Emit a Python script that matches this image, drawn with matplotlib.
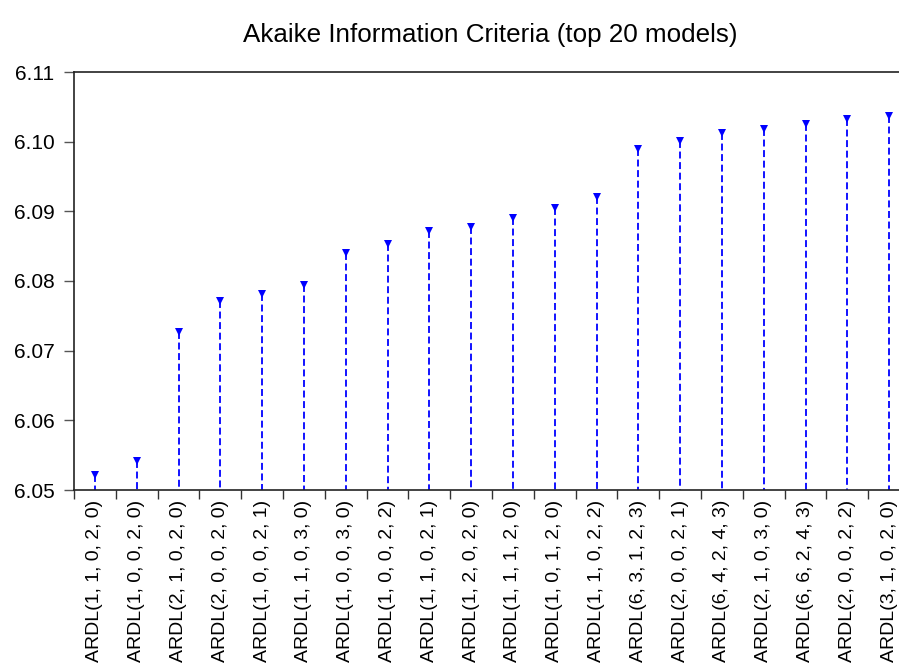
import matplotlib
matplotlib.use('Agg')
import matplotlib.pyplot as plt
import numpy as np

plt.rcParams['font.family'] = ['Liberation Sans', 'DejaVu Sans']
plt.rcParams['lines.scale_dashes'] = False

# ===== Data =====
models = [
    'ARDL(1, 1, 0, 2, 0)', 'ARDL(1, 0, 0, 2, 0)', 'ARDL(2, 1, 0, 2, 0)',
    'ARDL(2, 0, 0, 2, 0)', 'ARDL(1, 0, 0, 2, 1)', 'ARDL(1, 1, 0, 3, 0)',
    'ARDL(1, 0, 0, 3, 0)', 'ARDL(1, 0, 0, 2, 2)', 'ARDL(1, 1, 0, 2, 1)',
    'ARDL(1, 2, 0, 2, 0)', 'ARDL(1, 1, 1, 2, 0)', 'ARDL(1, 0, 1, 2, 0)',
    'ARDL(1, 1, 0, 2, 2)', 'ARDL(6, 3, 1, 2, 3)', 'ARDL(2, 0, 0, 2, 1)',
    'ARDL(6, 4, 2, 4, 3)', 'ARDL(2, 1, 0, 3, 0)', 'ARDL(6, 6, 2, 4, 3)',
    'ARDL(2, 0, 0, 2, 2)', 'ARDL(3, 1, 0, 2, 0)',
]
aic = [
    6.0521, 6.0542, 6.0727, 6.0772, 6.0782, 6.0794, 6.0840, 6.0853,
    6.0872, 6.0877, 6.0890, 6.0905, 6.0921, 6.0990, 6.1001, 6.1013,
    6.1018, 6.1025, 6.1032, 6.1037,
]
y_ticks = [6.05, 6.06, 6.07, 6.08, 6.09, 6.10, 6.11]
y_base = 6.05

# ===== Plot =====
fig = plt.figure(figsize=(8.99, 6.66), dpi=100)
ax = fig.add_axes([74 / 899, 176 / 666, 836 / 899, 418 / 666])

x = np.arange(1, len(models) + 1)
ax.vlines(x, aic, y_base, colors='#0000FF', linewidth=1.3,
          linestyles=[(0, (5, 2.6))])
ax.plot(x, aic, linestyle='none', marker='v', markersize=6,
        color='#0000FF', markeredgewidth=0)

ax.set_xlim(0.5, len(models) + 0.5)
ax.set_ylim(6.05, 6.11)
ax.set_yticks(y_ticks)
ax.set_yticklabels([f'{v:.2f}' for v in y_ticks], fontsize=15)
ax.set_xticks(np.arange(0.5, len(models) + 1, 1.0))
ax.set_xticklabels([])
ax.set_xticks(x, minor=True)
ax.set_xticklabels(models, minor=True, rotation=90, fontsize=14, va='top')
ax.tick_params(axis='x', which='minor', length=0, pad=7)
ax.tick_params(axis='x', which='major', direction='out', length=6.5,
               width=1, color='#333333')
ax.tick_params(axis='y', direction='out', length=7, width=1,
               color='#555555', pad=7)

for side in ['left', 'top', 'bottom', 'right']:
    ax.spines[side].set_linewidth(1.2)
    ax.spines[side].set_color('#222222')

fig.text(490 / 899, 1 - 35 / 666, 'Akaike Information Criteria (top 20 models)',
         ha='center', va='center', fontsize=18.7)

plt.savefig('out.png', dpi=100)
plt.close()
